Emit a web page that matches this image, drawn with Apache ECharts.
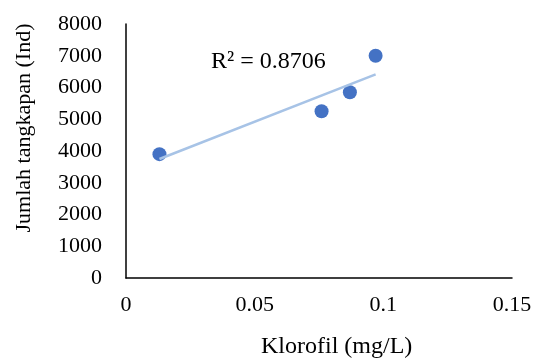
<!DOCTYPE html>
<html>
<head>
<meta charset="utf-8">
<script src="https://cdn.jsdelivr.net/npm/echarts@6/dist/echarts.min.js"></script>
<style>html,body{margin:0;padding:0;background:#fff;}#c{width:537px;height:362px;}</style>
</head>
<body>
<div id="c"></div>
<script>
const klorofil = [0.013, 0.076, 0.087, 0.097];
const tangkapan = [3900, 5250, 5850, 7000];
const xTicks = [0, 0.05, 0.1, 0.15];
const yTicks = [0, 1000, 2000, 3000, 4000, 5000, 6000, 7000, 8000];
const r2Label = 'R² = 0.8706';
const xTitle = 'Klorofil (mg/L)';
const yTitle = 'Jumlah tangkapan (Ind)';

// linear trendline (least squares) from the data
const n = klorofil.length;
const mx = klorofil.reduce((a, b) => a + b, 0) / n;
const my = tangkapan.reduce((a, b) => a + b, 0) / n;
let sxy = 0, sxx = 0;
for (let i = 0; i < n; i++) { sxy += (klorofil[i] - mx) * (tangkapan[i] - my); sxx += (klorofil[i] - mx) ** 2; }
const slope = sxy / sxx, icpt = my - slope * mx;
const xMin = Math.min(...klorofil), xMax = Math.max(...klorofil);
const trend = [[xMin, icpt + slope * xMin], [xMax, icpt + slope * xMax]];

const FONT = "'Liberation Serif','Times New Roman',serif";
const chart = echarts.init(document.getElementById('c'));
chart.setOption({
  animation: false,
  grid: { left: 126, right: 25, top: 24, bottom: 84, containLabel: false },
  xAxis: {
    type: 'value', min: xTicks[0], max: xTicks[xTicks.length - 1], interval: 0.05,
    axisLine: { show: true, onZero: false, lineStyle: { color: '#000', width: 1.5 } },
    axisTick: { show: false }, splitLine: { show: false },
    axisLabel: { color: '#000', fontFamily: FONT, fontSize: 22, margin: 16,
      formatter: v => String(+v.toFixed(2)) }
  },
  yAxis: {
    type: 'value', min: yTicks[0], max: yTicks[yTicks.length - 1], interval: 1000,
    axisLine: { show: true, lineStyle: { color: '#000', width: 1.5 } },
    axisTick: { show: false }, splitLine: { show: false },
    axisLabel: { color: '#000', fontFamily: FONT, fontSize: 22, margin: 24,
      formatter: v => String(v) }
  },
  series: [
    { type: 'line', data: trend, symbol: 'none', z: 3,
      lineStyle: { color: '#a7c3e6', width: 2.5 } },
    { type: 'scatter', data: klorofil.map((x, i) => [x, tangkapan[i]]), symbolSize: 14, z: 2,
      itemStyle: { color: '#4472C4', opacity: 1 } }
  ],
  graphic: [
    { type: 'text', left: 211, top: 50, style: { text: r2Label, font: '24px ' + FONT, fill: '#000' } },
    { type: 'text', left: 261, top: 335, style: { text: xTitle, font: '24px ' + FONT, fill: '#000' } },
    { type: 'text', x: 24, y: 128, rotation: Math.PI / 2,
      style: { text: yTitle, font: '22px ' + FONT, fill: '#000', align: 'center', verticalAlign: 'middle' } }
  ]
});
</script>
</body>
</html>
